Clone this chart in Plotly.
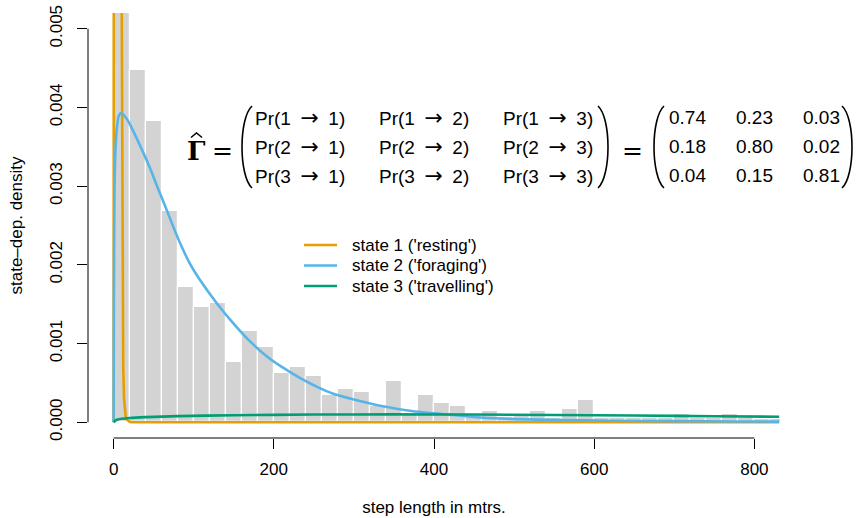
import plotly.graph_objects as go

# ---------------- data ----------------
bin_width = 20
bin_left = list(range(0, 840, 20))
bar_density = [
    0.0068, 0.00447, 0.00383, 0.00268, 0.00172, 0.00147, 0.00151, 0.00077,
    0.00116, 0.00095, 0.00063, 0.00070, 0.00059, 0.00035, 0.00042, 0.00038,
    0.00021, 0.00052, 0.00010, 0.00035, 0.00024, 0.00021, 0.00010, 0.00014,
    0.00007, 0.00008, 0.00014, 0.00006, 0.00017, 0.00028, 0.00006, 0.00006,
    0.00006, 0.00005, 0.00005, 0.00011, 0.00005, 0.00005, 0.00011, 0.00005,
    0.00004, 0.00004,
]

s1_x = [0, 0.3, 0.6, 1, 2, 3, 4, 5, 6, 7, 8, 9, 10, 11, 12, 13, 14, 15, 16, 18, 20, 22, 100, 300, 500, 700, 831]
s1_y = [0, 0.004, 0.02, 0.05, 0.12, 0.16, 0.17, 0.15, 0.11, 0.07, 0.035, 0.014, 0.0055, 0.0019,
        0.0007, 0.0003, 0.00015, 0.00008, 0.00004, 0.000015, 0.000005, 0, 0, 0, 0, 0, 0]

s2_x = [0, 0.3, 1, 2, 4, 6, 9, 13, 18, 25, 35, 45, 55, 65, 75, 85, 95, 107, 129, 150, 170,
        191, 212, 233, 254, 275, 300, 333, 374, 416, 458, 500, 560, 620, 700, 780, 831]
s2_y = [0, 0.0015, 0.0029, 0.0034, 0.00373, 0.00388, 0.00393, 0.0039, 0.00383, 0.00369,
        0.00347, 0.00324, 0.00298, 0.00273, 0.00247, 0.00223, 0.00202, 0.00182, 0.00151,
        0.00125, 0.00103, 0.00084, 0.00069, 0.00056, 0.00045, 0.00036, 0.00029, 0.00021,
        0.00014, 0.0001, 0.00006, 0.00004, 0.000028, 0.00002, 0.000014, 0.00001, 0.000008]

s3_x = [0, 2, 5, 10, 20, 40, 80, 150, 250, 350, 450, 550, 650, 750, 831]
s3_y = [0, 0.00002, 0.000035, 0.000045, 0.000055, 0.000065, 0.000078, 0.00009, 0.000098,
        0.0001, 0.000098, 0.000092, 0.000085, 0.000077, 0.00007]

state_names = ["state 1 ('resting')", "state 2 ('foraging')", "state 3 ('travelling')"]
state_colors = ["#E69F00", "#56B4E9", "#009E73"]

x_ticks = [0, 200, 400, 600, 800]
y_ticks = [0.000, 0.001, 0.002, 0.003, 0.004, 0.005]
y_ticktext = ["0.000", "0.001", "0.002", "0.003", "0.004", "0.005"]

gamma_from = ["1", "2", "3"]
gamma_to = ["1", "2", "3"]
gamma_values = [["0.74", "0.23", "0.03"],
                ["0.18", "0.80", "0.02"],
                ["0.04", "0.15", "0.81"]]

# ---------------- layout geometry ----------------
W, H = 856, 518
ML, MR, MT, MB = 88, 76, 13, 80
PW, PH = W - ML - MR, H - MT - MB
FONT = "Liberation Sans, Arial, Helvetica, sans-serif"


def px(xp):
    return (xp - ML) / PW


def py(yp):
    return (H - MB - yp) / PH


fig = go.Figure()

fig.add_trace(go.Bar(
    x=[b + bin_width / 2 for b in bin_left], y=bar_density, width=bin_width,
    marker=dict(color="#D3D3D3", line=dict(color="white", width=1.2)),
    showlegend=False, hoverinfo="skip"))

line_shapes = ["linear", "spline", "spline"]
for xs, ys, name, col, lsh in zip([s1_x, s2_x, s3_x], [s1_y, s2_y, s3_y], state_names,
                                  state_colors, line_shapes):
    fig.add_trace(go.Scatter(x=xs, y=ys, mode="lines", name=name, showlegend=False,
                             line=dict(color=col, width=2.6, shape=lsh, smoothing=0.5)))

shapes = []
# R-style axis lines (only between first and last tick)
shapes.append(dict(type="line", xref="x", yref="paper", x0=x_ticks[0], x1=x_ticks[-1], y0=0, y1=0,
                   line=dict(color="black", width=1)))
shapes.append(dict(type="line", xref="paper", yref="y", x0=0, x1=0, y0=y_ticks[0], y1=y_ticks[-1],
                   line=dict(color="black", width=1)))


def paren(x_tip, x_bulge, y_top, y_bot):
    h = y_bot - y_top
    xc = x_tip + (x_bulge - x_tip) / 0.75
    pts = [(x_tip, y_top), (xc, y_top + 0.15 * h), (xc, y_bot - 0.15 * h), (x_tip, y_bot)]
    p = [(px(a), py(b)) for a, b in pts]
    return dict(type="path", xref="paper", yref="paper",
                path="M{:.5f},{:.5f} C{:.5f},{:.5f} {:.5f},{:.5f} {:.5f},{:.5f}".format(
                    p[0][0], p[0][1], p[1][0], p[1][1], p[2][0], p[2][1], p[3][0], p[3][1]),
                line=dict(color="black", width=1.6))


shapes.append(paren(252, 242, 106, 188))
shapes.append(paren(598, 608, 106, 188))
shapes.append(paren(664, 654, 106, 188))
shapes.append(paren(842, 852, 106, 188))

# hat accent over Gamma
hat_pts = [(191, 137.5), (196.5, 133), (202, 137.5)]
shapes.append(dict(type="path", xref="paper", yref="paper",
                   path="M{:.5f},{:.5f} L{:.5f},{:.5f} L{:.5f},{:.5f}".format(
                       px(hat_pts[0][0]), py(hat_pts[0][1]), px(hat_pts[1][0]), py(hat_pts[1][1]),
                       px(hat_pts[2][0]), py(hat_pts[2][1])),
                   line=dict(color="black", width=1.5)))

# manual legend (R style)
leg_y = [245, 265.5, 286]
for yy, col in zip(leg_y, state_colors):
    shapes.append(dict(type="line", xref="paper", yref="paper", x0=px(304), x1=px(337),
                       y0=py(yy), y1=py(yy), line=dict(color=col, width=2.6)))

annotations = []


def ann(text, x, y, size, family=FONT, xanchor="center"):
    annotations.append(dict(text=text, x=px(x), y=py(y), xref="paper", yref="paper",
                            xanchor=xanchor, yanchor="middle", showarrow=False,
                            font=dict(family=family, size=size, color="black")))


for yy, name in zip(leg_y, state_names):
    ann(name, 350, yy, 17, xanchor="left")

ann("<b>\u0393</b>", 196, 151, 26, family="DejaVu Serif")
ann("=", 222, 150, 25, family="DejaVu Sans")
ann("=", 632, 150, 25, family="DejaVu Sans")
row_y = [117, 146, 175]
sym_x = [300, 424, 548]
val_x = [687, 754, 821]
arrow = "<span style='font-family:DejaVu Sans;font-size:22px'>\u2192</span>"
for i in range(3):
    for j in range(3):
        ann("Pr(" + gamma_from[i] + "\u2002" + arrow + "\u2002" + gamma_to[j] + ")",
            sym_x[j], row_y[i], 19)
        ann(gamma_values[i][j], val_x[j], row_y[i], 19)

axis_common = dict(ticks="outside", ticklen=10, tickwidth=1, tickcolor="black",
                   showline=False, showgrid=False, zeroline=False, automargin=False,
                   tickfont=dict(family=FONT, size=17, color="black"))

fig.update_layout(
    template="none",
    width=W, height=H,
    margin=dict(l=ML, r=MR, t=MT, b=MB, pad=0),
    plot_bgcolor="white", paper_bgcolor="white",
    font=dict(family=FONT, size=17, color="black"),
    bargap=0,
    shapes=shapes, annotations=annotations,
    showlegend=False,
    xaxis=dict(range=[-32, 832], tickvals=x_ticks, ticklabelstandoff=6,
               title=dict(text="step length in mtrs.", standoff=22,
                          font=dict(family=FONT, size=17, color="black")),
               **axis_common),
    yaxis=dict(range=[-0.0002, 0.0052], tickvals=y_ticks, ticktext=y_ticktext, tickangle=-90,
               ticklabelstandoff=8,
               title=dict(text="state\u2013dep. density", standoff=20,
                          font=dict(family=FONT, size=17, color="black")),
               **axis_common),
)

fig.write_html("out.html")
